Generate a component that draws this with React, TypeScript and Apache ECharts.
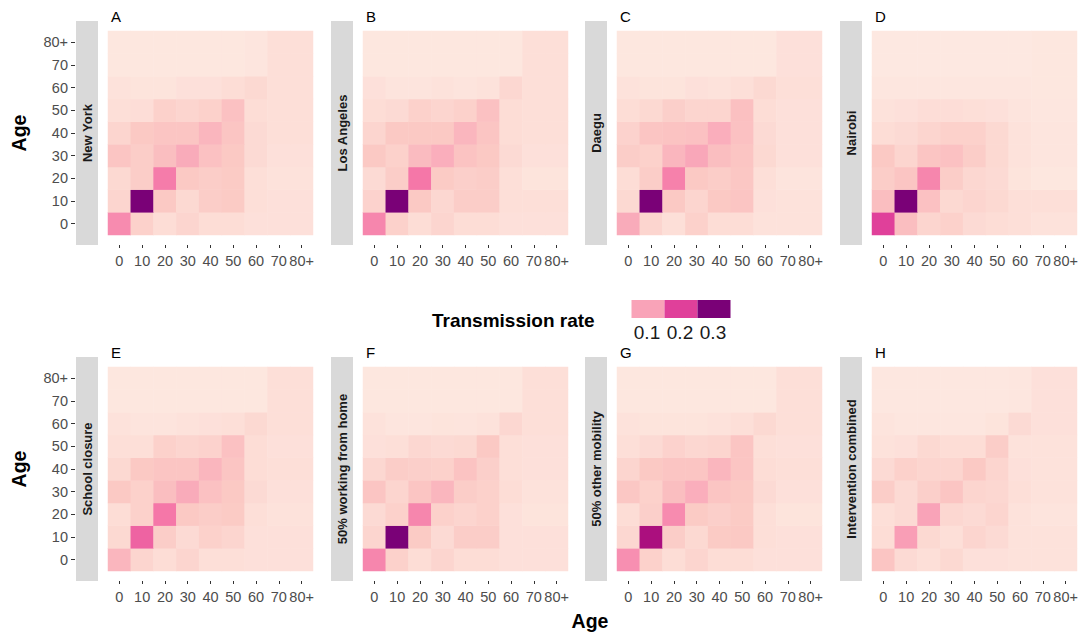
import React, { useEffect, useRef } from "react";
import * as echarts from "echarts";

const ageLabels = ["0", "10", "20", "30", "40", "50", "60", "70", "80+"];
const panelLetters = ["A", "B", "C", "D", "E", "F", "G", "H"];
const panelTitles = [
  "New York",
  "Los Angeles",
  "Daegu",
  "Nairobi",
  "School closure",
  "50% working from home",
  "50% other mobility",
  "Intervention combined",
];

// Rows: contact age group from 0 (bottom) to 70+ (top); columns: age group 0 .. 70+
const newYork = [
  [0.125, 0.04, 0.025, 0.035, 0.025, 0.025, 0.02, 0.02],
  [0.035, 0.3, 0.05, 0.03, 0.045, 0.048, 0.022, 0.02],
  [0.03, 0.045, 0.14, 0.05, 0.045, 0.048, 0.022, 0.018],
  [0.055, 0.045, 0.065, 0.09, 0.06, 0.05, 0.028, 0.02],
  [0.035, 0.05, 0.055, 0.055, 0.075, 0.055, 0.028, 0.022],
  [0.022, 0.024, 0.04, 0.035, 0.04, 0.06, 0.025, 0.022],
  [0.018, 0.016, 0.016, 0.02, 0.02, 0.025, 0.03, 0.022],
  [0.012, 0.012, 0.012, 0.012, 0.012, 0.012, 0.014, 0.022],
];
const losAngeles = [
  [0.13, 0.04, 0.025, 0.035, 0.025, 0.025, 0.02, 0.02],
  [0.038, 0.3, 0.05, 0.032, 0.045, 0.045, 0.022, 0.022],
  [0.028, 0.045, 0.145, 0.048, 0.042, 0.045, 0.022, 0.016],
  [0.05, 0.04, 0.068, 0.085, 0.058, 0.05, 0.028, 0.02],
  [0.035, 0.05, 0.05, 0.05, 0.075, 0.055, 0.025, 0.022],
  [0.025, 0.028, 0.04, 0.035, 0.04, 0.06, 0.025, 0.022],
  [0.02, 0.015, 0.015, 0.018, 0.015, 0.018, 0.032, 0.022],
  [0.012, 0.012, 0.012, 0.012, 0.012, 0.012, 0.012, 0.022],
];
const daegu = [
  [0.09, 0.035, 0.022, 0.04, 0.025, 0.025, 0.018, 0.018],
  [0.03, 0.3, 0.05, 0.035, 0.05, 0.055, 0.02, 0.018],
  [0.025, 0.045, 0.135, 0.05, 0.045, 0.052, 0.022, 0.015],
  [0.045, 0.04, 0.075, 0.095, 0.065, 0.055, 0.03, 0.02],
  [0.038, 0.055, 0.058, 0.06, 0.085, 0.06, 0.028, 0.02],
  [0.025, 0.03, 0.042, 0.035, 0.035, 0.062, 0.025, 0.02],
  [0.018, 0.016, 0.016, 0.02, 0.018, 0.022, 0.03, 0.022],
  [0.012, 0.012, 0.012, 0.012, 0.012, 0.012, 0.012, 0.02],
];
const nairobi = [
  [0.2, 0.065, 0.035, 0.04, 0.028, 0.025, 0.022, 0.018],
  [0.065, 0.3, 0.06, 0.03, 0.035, 0.03, 0.022, 0.022],
  [0.045, 0.055, 0.13, 0.045, 0.032, 0.028, 0.016, 0.012],
  [0.05, 0.035, 0.055, 0.06, 0.045, 0.03, 0.018, 0.014],
  [0.025, 0.028, 0.035, 0.04, 0.04, 0.03, 0.018, 0.014],
  [0.018, 0.02, 0.024, 0.024, 0.022, 0.02, 0.015, 0.013],
  [0.013, 0.013, 0.013, 0.013, 0.013, 0.013, 0.013, 0.012],
  [0.01, 0.01, 0.01, 0.01, 0.01, 0.01, 0.01, 0.012],
];
const schoolClosure = [
  [0.075, 0.035, 0.025, 0.035, 0.022, 0.022, 0.02, 0.02],
  [0.03, 0.165, 0.045, 0.028, 0.04, 0.035, 0.02, 0.02],
  [0.025, 0.04, 0.145, 0.05, 0.045, 0.048, 0.022, 0.018],
  [0.05, 0.04, 0.065, 0.09, 0.06, 0.05, 0.028, 0.02],
  [0.03, 0.05, 0.055, 0.055, 0.075, 0.055, 0.025, 0.022],
  [0.022, 0.022, 0.04, 0.035, 0.038, 0.06, 0.025, 0.02],
  [0.018, 0.015, 0.015, 0.018, 0.02, 0.022, 0.03, 0.022],
  [0.012, 0.012, 0.012, 0.012, 0.012, 0.012, 0.012, 0.022],
];
const workingFromHome = [
  [0.13, 0.04, 0.025, 0.035, 0.025, 0.025, 0.02, 0.02],
  [0.035, 0.3, 0.048, 0.028, 0.045, 0.045, 0.02, 0.02],
  [0.028, 0.04, 0.13, 0.04, 0.035, 0.04, 0.02, 0.016],
  [0.055, 0.035, 0.055, 0.075, 0.045, 0.04, 0.025, 0.018],
  [0.032, 0.045, 0.042, 0.04, 0.058, 0.042, 0.022, 0.02],
  [0.02, 0.022, 0.032, 0.028, 0.03, 0.05, 0.022, 0.02],
  [0.018, 0.014, 0.014, 0.016, 0.015, 0.018, 0.032, 0.022],
  [0.012, 0.012, 0.012, 0.012, 0.012, 0.012, 0.012, 0.022],
];
const otherMobility = [
  [0.12, 0.04, 0.025, 0.035, 0.025, 0.025, 0.02, 0.02],
  [0.032, 0.255, 0.045, 0.03, 0.048, 0.05, 0.022, 0.02],
  [0.025, 0.042, 0.125, 0.048, 0.042, 0.048, 0.022, 0.016],
  [0.052, 0.04, 0.065, 0.085, 0.055, 0.05, 0.028, 0.02],
  [0.035, 0.05, 0.055, 0.055, 0.075, 0.055, 0.025, 0.022],
  [0.022, 0.028, 0.038, 0.032, 0.035, 0.055, 0.022, 0.02],
  [0.018, 0.016, 0.016, 0.016, 0.018, 0.022, 0.03, 0.022],
  [0.012, 0.012, 0.012, 0.012, 0.012, 0.012, 0.012, 0.022],
];
const interventionCombined = [
  [0.055, 0.028, 0.022, 0.03, 0.02, 0.02, 0.018, 0.018],
  [0.025, 0.105, 0.03, 0.022, 0.035, 0.028, 0.018, 0.018],
  [0.022, 0.028, 0.1, 0.032, 0.028, 0.035, 0.018, 0.015],
  [0.045, 0.028, 0.042, 0.055, 0.035, 0.032, 0.022, 0.018],
  [0.028, 0.04, 0.035, 0.035, 0.05, 0.035, 0.02, 0.018],
  [0.018, 0.02, 0.03, 0.025, 0.025, 0.045, 0.018, 0.018],
  [0.015, 0.013, 0.013, 0.013, 0.013, 0.016, 0.028, 0.02],
  [0.011, 0.011, 0.011, 0.011, 0.011, 0.011, 0.013, 0.02],
];

const panelMatrices = [
  newYork,
  losAngeles,
  daegu,
  nairobi,
  schoolClosure,
  workingFromHome,
  otherMobility,
  interventionCombined,
];

const legendValues = [0.1, 0.2, 0.3];
const legendTitle = "Transmission rate";
const axisTitle = "Age";
const colorStops = ["#fef0e8", "#fbc9c4", "#f9a3b8", "#f472a6", "#e0409a", "#b0117f", "#7a0177"];
const scaleMin = 0;
const scaleMax = 0.3;

const FONT = "'Liberation Sans', Arial, Helvetica, sans-serif";

function colorFor(v: number): string {
  const t = ((v - scaleMin) / (scaleMax - scaleMin)) * (colorStops.length - 1);
  const i = Math.max(0, Math.min(colorStops.length - 2, Math.floor(t)));
  const f = Math.max(0, Math.min(1, t - i));
  const a = colorStops[i];
  const b = colorStops[i + 1];
  const pa = [1, 3, 5].map((k) => parseInt(a.slice(k, k + 2), 16));
  const pb = [1, 3, 5].map((k) => parseInt(b.slice(k, k + 2), 16));
  const c = pa.map((x, k) => Math.round(x + (pb[k] - x) * f));
  return "rgb(" + c.join(",") + ")";
}

export default function App() {
  const ref = useRef<HTMLDivElement>(null);
  useEffect(() => {
    if (!ref.current) return;
    const chart = echarts.init(ref.current, undefined, { renderer: "svg" });

    const colLefts = [108, 363, 617, 872];
    const rowTops = [31, 367];
    const W = 205;
    const H = 204;

    const grids: any[] = [];
    const xAxes: any[] = [];
    const yAxes: any[] = [];
    const series: any[] = [];
    const graphics: any[] = [];

    panelMatrices.forEach((m, p) => {
      const left = colLefts[p % 4];
      const top = rowTops[Math.floor(p / 4)];
      grids.push({ left, top, width: W, height: H, containLabel: false });
      xAxes.push({
        type: "category",
        gridIndex: p,
        data: ageLabels,
        position: "bottom",
        offset: 10,
        axisLine: { show: false },
        axisTick: { show: true, alignWithLabel: true, length: 3, lineStyle: { color: "#333333", width: 1 } },
        axisLabel: { interval: 0, margin: 8, color: "#4d4d4d", fontSize: 14.5, fontFamily: FONT },
        splitLine: { show: false },
      });
      const showY = p % 4 === 0;
      yAxes.push({
        type: "category",
        gridIndex: p,
        data: ageLabels,
        position: "left",
        offset: 33,
        axisLine: { show: false },
        axisTick: { show: showY, alignWithLabel: true, length: 4, lineStyle: { color: "#333333", width: 1 } },
        axisLabel: { show: showY, interval: 0, margin: 7, color: "#4d4d4d", fontSize: 14.5, fontFamily: FONT },
        splitLine: { show: false },
      });
      const data: number[][] = [];
      for (let yi = 0; yi < ageLabels.length; yi++) {
        for (let xi = 0; xi < ageLabels.length; xi++) {
          const v = m[Math.min(yi, m.length - 1)][Math.min(xi, m[0].length - 1)];
          data.push([xi, yi, v]);
        }
      }
      series.push({
        type: "heatmap",
        xAxisIndex: p,
        yAxisIndex: p,
        data,
        emphasis: { disabled: true },
        progressive: 0,
      });

      // facet strip on the left
      graphics.push({
        type: "rect",
        shape: { x: left - 32, y: top - 10, width: 22, height: H + 20 },
        style: { fill: "#d9d9d9" },
        silent: true,
      });
      graphics.push({
        type: "text",
        x: left - 21,
        y: top + H / 2,
        rotation: Math.PI / 2,
        style: {
          text: panelTitles[p],
          fill: "#1a1a1a",
          font: "bold 13px " + FONT,
          textAlign: "center",
          textVerticalAlign: "middle",
        },
        silent: true,
      });
      // panel letter
      graphics.push({
        type: "text",
        x: left + 3,
        y: top - 15,
        style: {
          text: panelLetters[p],
          fill: "#000000",
          font: "15px " + FONT,
          textAlign: "left",
          textVerticalAlign: "middle",
        },
        silent: true,
      });
    });

    // Axis titles
    [133, 469].forEach((cy) => {
      graphics.push({
        type: "text",
        x: 19,
        y: cy,
        rotation: Math.PI / 2,
        style: {
          text: axisTitle,
          fill: "#000000",
          font: "bold 19.5px " + FONT,
          textAlign: "center",
          textVerticalAlign: "middle",
        },
        silent: true,
      });
    });
    graphics.push({
      type: "text",
      x: 590,
      y: 621,
      style: {
        text: axisTitle,
        fill: "#000000",
        font: "bold 19.5px " + FONT,
        textAlign: "center",
        textVerticalAlign: "middle",
      },
      silent: true,
    });

    // Legend
    graphics.push({
      type: "text",
      x: 432,
      y: 320,
      style: {
        text: legendTitle,
        fill: "#000000",
        font: "bold 19px " + FONT,
        textAlign: "left",
        textVerticalAlign: "middle",
      },
      silent: true,
    });
    const boxW = 33;
    const boxX0 = 631.5;
    legendValues.forEach((v, i) => {
      graphics.push({
        type: "rect",
        shape: { x: boxX0 + i * boxW, y: 300, width: boxW, height: 18 },
        style: { fill: colorFor(v) },
        silent: true,
      });
      graphics.push({
        type: "text",
        x: boxX0 + i * boxW + boxW / 2 - 1,
        y: 332,
        style: {
          text: v.toFixed(1),
          fill: "#1a1a1a",
          font: "19px " + FONT,
          textAlign: "center",
          textVerticalAlign: "middle",
        },
        silent: true,
      });
    });

    chart.setOption({
      animation: false,
      backgroundColor: "#ffffff",
      grid: grids,
      xAxis: xAxes,
      yAxis: yAxes,
      visualMap: {
        type: "continuous",
        show: false,
        min: scaleMin,
        max: scaleMax,
        seriesIndex: series.map((_, i) => i),
        inRange: { color: colorStops },
      },
      series,
      graphic: graphics,
    });
    return () => chart.dispose();
  }, []);
  return (
    <div
      ref={ref}
      style={{ position: "absolute", left: 0, top: 0, width: 1089, height: 633 }}
    />
  );
}
